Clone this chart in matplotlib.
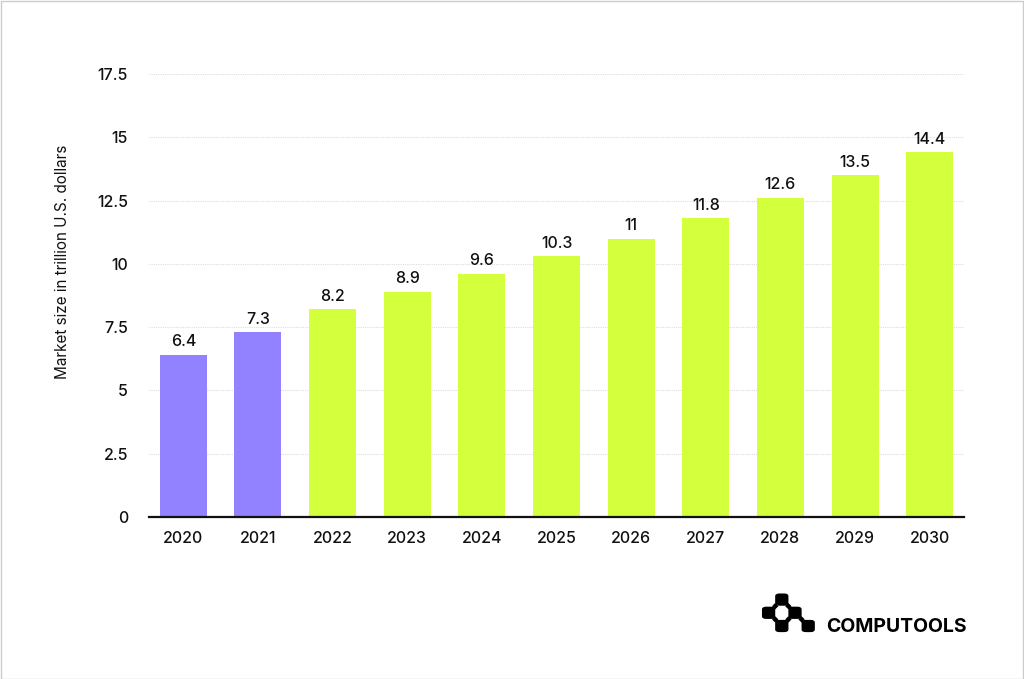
import matplotlib.pyplot as plt
from matplotlib.patches import FancyBboxPatch, Rectangle, Polygon

# Data
years = ['2020', '2021', '2022', '2023', '2024', '2025',
         '2026', '2027', '2028', '2029', '2030']
market_size = [6.4, 7.3, 8.2, 8.9, 9.6, 10.3, 11, 11.8, 12.6, 13.5, 14.4]
value_labels = ['6.4', '7.3', '8.2', '8.9', '9.6', '10.3',
                '11', '11.8', '12.6', '13.5', '14.4']
n_actual = 2  # first two bars are historical

yticks = [0, 2.5, 5, 7.5, 10, 12.5, 15, 17.5]
ytick_labels = ['0', '2.5', '5', '7.5', '10', '12.5', '15', '17.5']

# Colours
purple = '#9382ff'
green = '#d4ff3c'

plt.rcParams['font.family'] = ['Inter', 'DejaVu Sans']
plt.rcParams['font.weight'] = 'medium'

W, H = 1024, 679
fig = plt.figure(figsize=(W / 100, H / 100), dpi=100)
ax = fig.add_axes([149 / W, 1 - 517 / H, (964 - 149) / W, (517 - 74) / H])

colors = [purple if i < n_actual else green for i in range(len(years))]
x = list(range(len(years)))
bars = ax.bar(x, market_size, width=0.63, color=colors, zorder=2)

for rect, lab in zip(bars, value_labels):
    ax.annotate(lab, (rect.get_x() + rect.get_width() / 2, rect.get_height()),
                xytext=(0, 4), textcoords='offset points',
                ha='center', va='bottom', fontsize=11.5, color='#111111')

ax.set_xlim(-0.46, len(years) - 0.54)
ax.set_ylim(0, 17.5)
ax.set_xticks(x)
ax.set_xticklabels(years)
ax.set_yticks(yticks)
ax.set_yticklabels(ytick_labels)
ax.tick_params(axis='both', length=0, labelsize=11.5, colors='#111111')
ax.tick_params(axis='x', pad=10)
ax.tick_params(axis='y', pad=15)

ax.grid(axis='y', color='#dddddd', linestyle=(0, (1, 1)), linewidth=0.8, zorder=0)
for s in ['top', 'right', 'left']:
    ax.spines[s].set_visible(False)
ax.spines['bottom'].set_linewidth(1.6)
ax.spines['bottom'].set_color('#111111')
ax.spines['bottom'].set_zorder(3)

ax.set_ylabel('Market size in trillion U.S. dollars', fontsize=11, color='#111111')
ax.yaxis.set_label_coords(-0.0975, 0.576)

# Light frame around the image
fig.patches.append(Rectangle((0.5 / W, 0.5 / H), 1 - 1.5 / W, 1 - 1.5 / H,
                             transform=fig.transFigure, fill=False,
                             edgecolor='#cccccc', linewidth=1))


def fx(px):
    return px / W


def fy(py):
    return 1 - py / H


# Logo: rounded blocks on a small grid, joined at the corners
cell = 13.2
x0, y0 = 762, 593
cells = [(1, 0), (0, 1), (2, 1), (1, 2), (3, 2)]
for cx, cy in cells:
    left = x0 + cx * cell
    top = y0 + cy * cell
    fig.patches.append(FancyBboxPatch(
        (fx(left + 1.5), fy(top + cell - 1.5)), (cell - 3) / W, (cell - 3) / H,
        boxstyle='round,pad=0.0015,rounding_size=0.004',
        transform=fig.transFigure, facecolor='black', edgecolor='none'))
joints = [(1, 1), (2, 1), (1, 2), (2, 2), (3, 2)]
d = 3.2
for jx, jy in joints:
    px, py = x0 + jx * cell, y0 + jy * cell
    fig.patches.append(Polygon(
        [(fx(px - d), fy(py)), (fx(px), fy(py - d)),
         (fx(px + d), fy(py)), (fx(px), fy(py + d))],
        closed=True, transform=fig.transFigure,
        facecolor='black', edgecolor='none'))
fig.text(fx(826), fy(627), 'COMPUTOOLS', fontsize=14, fontweight='bold',
         ha='left', va='center', color='black')

fig.savefig('out.png', dpi=100, facecolor='white')
